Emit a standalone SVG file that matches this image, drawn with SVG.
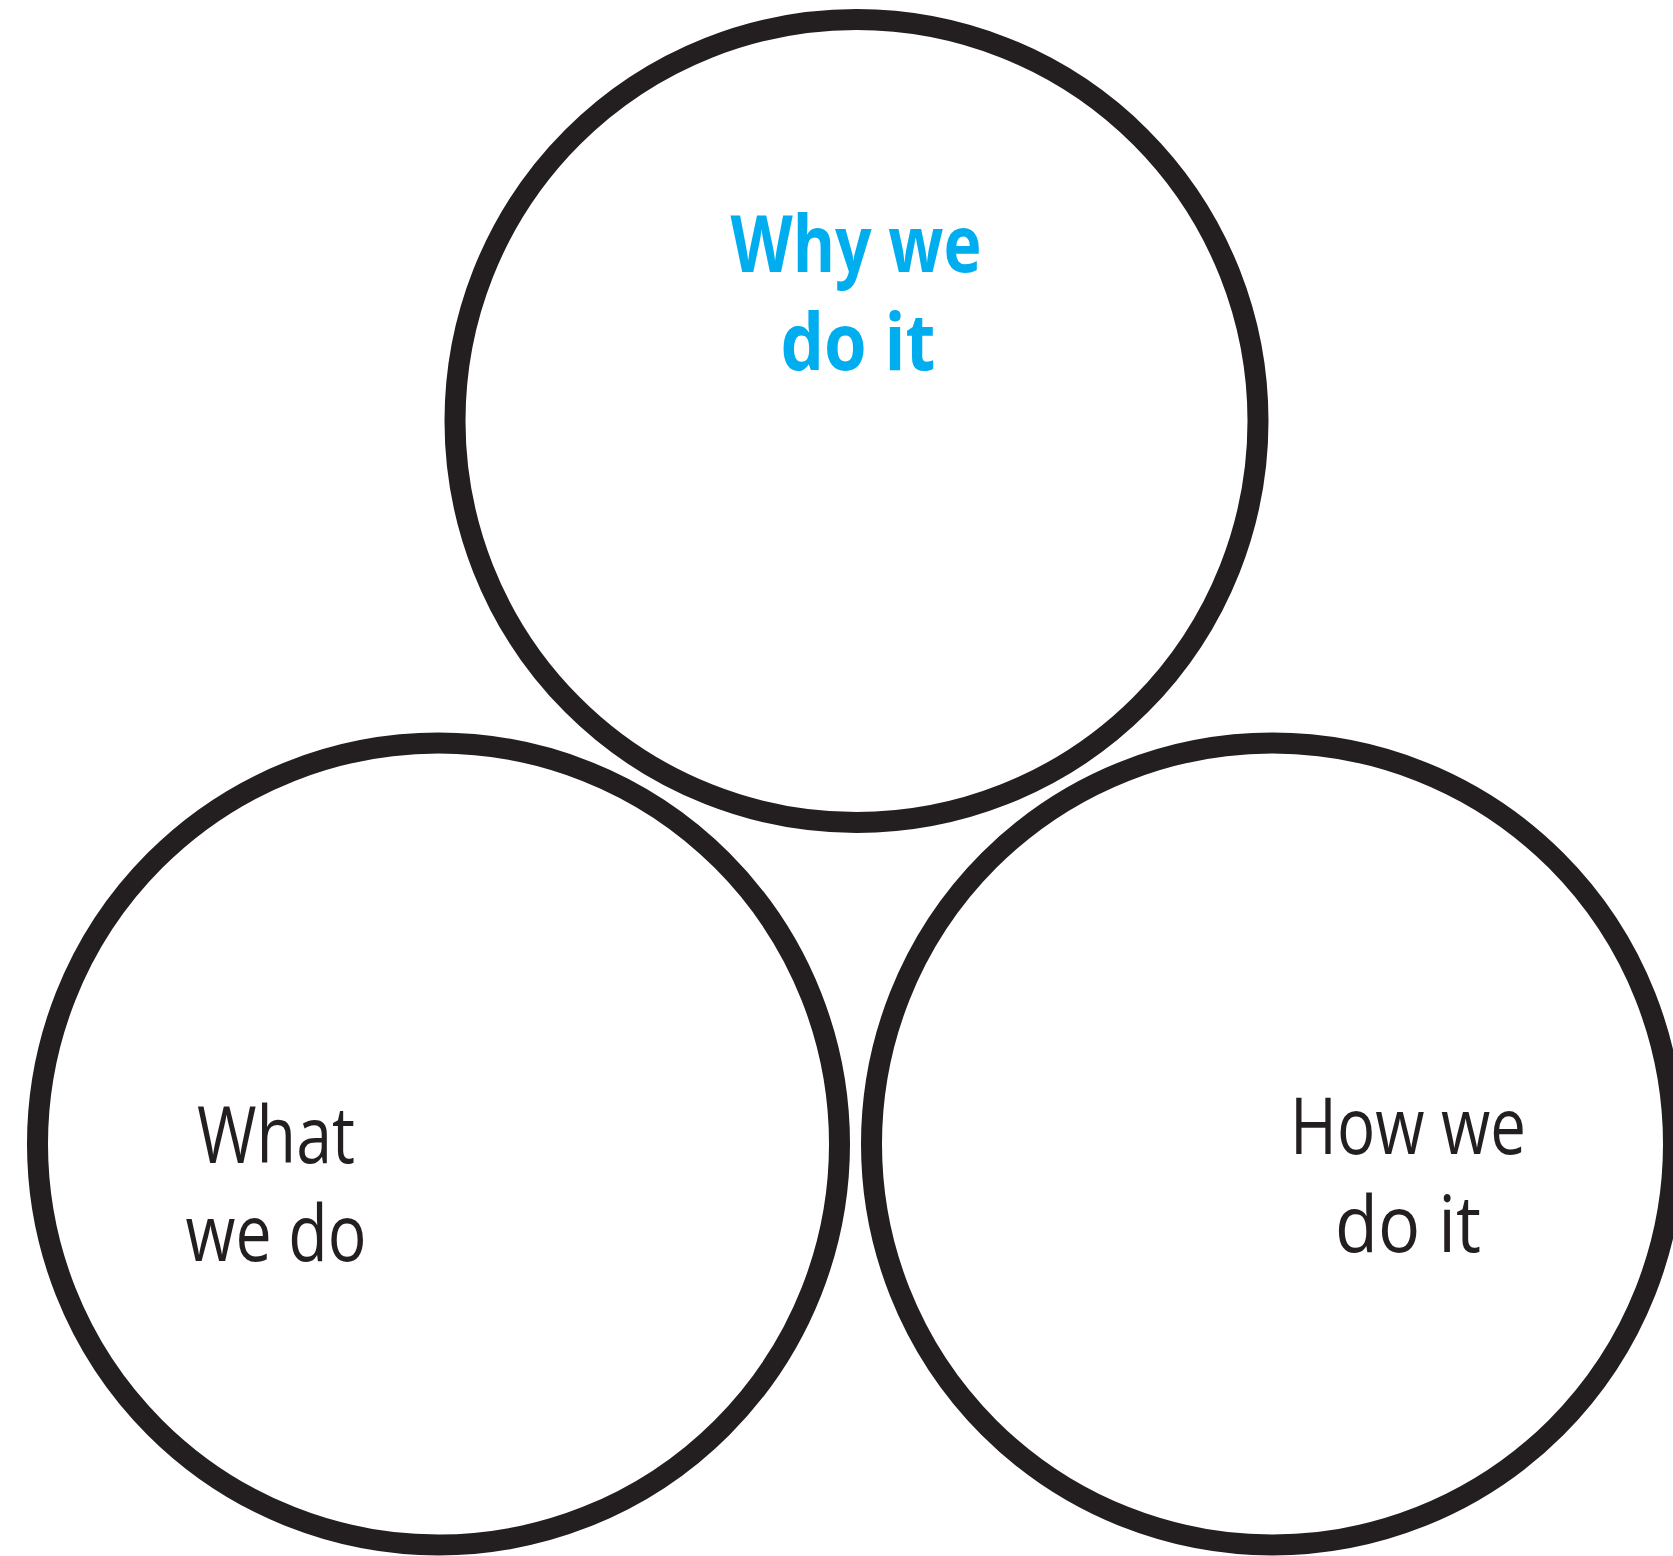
<svg xmlns="http://www.w3.org/2000/svg" width="1673" height="1556" viewBox="0 0 1673 1556">
<style>
.c{fill:none;stroke:#231f20;stroke-width:21}
.t{font-family:"Open Sans","Noto Sans",sans-serif;font-size:78px;text-anchor:middle;fill:#231f20}
.b{fill:#00aeef;font-weight:bold}
</style>
<rect width="1673" height="1556" fill="#fff"/>
<g id="why">
<circle class="c" cx="856.5" cy="421" r="401.5"/>
<text class="t b" x="856" y="272" textLength="251" lengthAdjust="spacingAndGlyphs">Why we</text>
<text class="t b" x="858" y="370" textLength="155" lengthAdjust="spacingAndGlyphs">do it</text>
</g>
<g id="what">
<circle class="c" cx="438.5" cy="1144" r="401"/>
<text class="t" x="276" y="1163" textLength="158" lengthAdjust="spacingAndGlyphs">What</text>
<text class="t" x="276" y="1261" textLength="181" lengthAdjust="spacingAndGlyphs">we do</text>
</g>
<g id="how">
<circle class="c" cx="1272.5" cy="1144" r="401"/>
<text class="t" x="1408" y="1154" textLength="236" lengthAdjust="spacingAndGlyphs">How we</text>
<text class="t" x="1408" y="1252" textLength="146" lengthAdjust="spacingAndGlyphs">do it</text>
</g>
<g id="connectors"/>
</svg>
